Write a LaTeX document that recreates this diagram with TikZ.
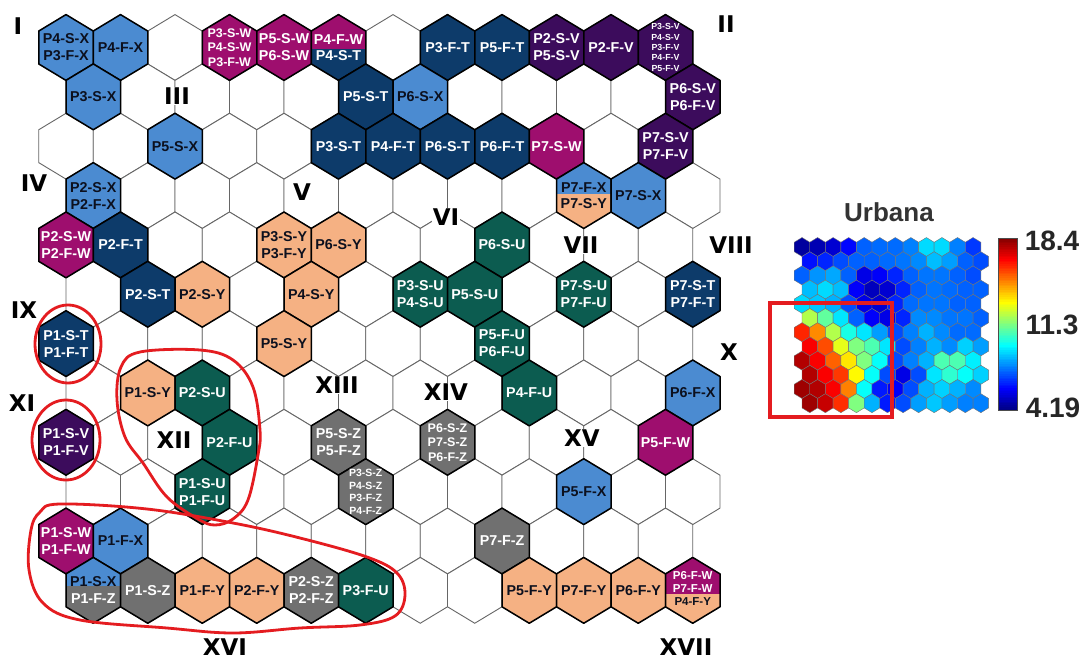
\documentclass[tikz,border=0pt]{standalone}
\usepackage{fontspec}
\setmainfont{Liberation Sans}
\newfontfamily\romfont{DejaVu Sans}
\usetikzlibrary{backgrounds}
\definecolor{hblue}{RGB}{75,139,209}
\definecolor{hnavy}{RGB}{13,59,106}
\definecolor{hmag}{RGB}{158,14,110}
\definecolor{hpurp}{RGB}{60,12,92}
\definecolor{hpeach}{RGB}{245,177,131}
\definecolor{hteal}{RGB}{12,92,80}
\definecolor{hgray}{RGB}{112,112,112}
\definecolor{hdark}{RGB}{12,16,30}
\definecolor{loopred}{RGB}{228,28,32}
\pgfdeclarelayer{fg}
\pgfsetlayers{main,fg}
\def\hw{27.25}
\def\hr{32.9}
\newcommand\setc[2]{\pgfmathsetmacro\hx{66+54.5*#2+27.25*mod(#1,2)}\pgfmathsetmacro\hy{47.5+49.35*#1}}
\newcommand\hexdo[1]{#1 (\hx,\hy) ++(0,-\hr) -- ++(\hw,0.5*\hr) -- ++(0,\hr) -- ++(-\hw,0.5*\hr) -- ++(-\hw,-0.5*\hr) -- ++(0,-\hr) -- cycle;}
\newcommand\chex[5]{%
  \setc{#1}{#2}%
  \hexdo{\draw[colhex,fill=#3]}%
  \begin{pgfonlayer}{fg}\node[#4] (n#1-#2) at (\hx,\hy) {#5};\end{pgfonlayer}%
}
\newcommand\shex[5]{%
  \setc{#1}{#2}%
  \pgfmathsetmacro\hs{\hy+(#5)}%
  \hexdo{\fill[#4]}%
  \begin{scope}\clip (\hx-30,\hy-40) rectangle (\hx+30,\hs);\hexdo{\fill[#3]}\end{scope}%
  \hexdo{\draw[colhex]}%
}
\newcommand\jetcolor[1]{%
 \pgfmathsetmacro\jr{max(0,min(1,min(4*(#1)-1.5,4.5-4*(#1))))}%
 \pgfmathsetmacro\jg{max(0,min(1,min(4*(#1)-0.5,3.5-4*(#1))))}%
 \pgfmathsetmacro\jb{max(0,min(1,min(4*(#1)+0.5,2.5-4*(#1))))}%
 \definecolor{jetc}{rgb}{\jr,\jg,\jb}}
\tikzset{
 gridhex/.style={draw=black!60, line width=0.9pt, fill=white},
 colhex/.style={draw=black, line width=1.5pt, line join=round},
 hlab/.style={font=\bfseries\fontsize{14.3}{17}\selectfont, align=center, inner sep=0pt},
 hlab3/.style={font=\bfseries\fontsize{12.5}{14.5}\selectfont, align=center, inner sep=0pt},
 hlab4/.style={font=\bfseries\fontsize{10.5}{12.5}\selectfont, align=center, inner sep=0pt},
 hlab5/.style={font=\bfseries\fontsize{8.8}{10.4}\selectfont, align=center, inner sep=0pt},
 tw/.style={hlab,text=white},
 tk/.style={hlab,text=hdark},
 roman/.style={font=\romfont\bfseries\fontsize{23}{23}\selectfont, inner sep=0.5pt, fill=white, text=black},
 redloop/.style={draw=loopred, line width=2.8pt},
 maphex/.style={draw=black!55, line width=0.4pt},
}
\begin{document}
\begin{tikzpicture}[x=1pt,y=-1pt]
\useasboundingbox (0,0) rectangle (1089,661);
\fill[white] (0,0) rectangle (1089,661);
% grid
\foreach \ii in {0,...,11}{\foreach \jj in {0,...,11}{\setc{\ii}{\jj}\hexdo{\draw[gridhex]}}}
% row 0
\chex{0}{0}{hblue}{tk}{P4-S-X\\P3-F-X}
\chex{0}{1}{hblue}{tk}{P4-F-X}
\chex{0}{3}{hmag}{hlab3,text=white}{P3-S-W\\P4-S-W\\P3-F-W}
\chex{0}{4}{hmag}{tw}{P5-S-W\\P6-S-W}
\shex{0}{5}{hmag}{hnavy}{1}
\begin{pgfonlayer}{fg}
\node[tw] (n0-5a) at (\hx,\hy-8) {P4-F-W};
\node[tw] (n0-5b) at (\hx,\hy+8.5) {P4-S-T};
\end{pgfonlayer}
\chex{0}{7}{hnavy}{tw}{P3-F-T}
\chex{0}{8}{hnavy}{tw}{P5-F-T}
\chex{0}{9}{hpurp}{tw}{P2-S-V\\P5-S-V}
\chex{0}{10}{hpurp}{tw}{P2-F-V}
\chex{0}{11}{hpurp}{hlab5,text=white}{P3-S-V\\P4-S-V\\P3-F-V\\P4-F-V\\P5-F-V}
% row 1
\chex{1}{0}{hblue}{tk}{P3-S-X}
\chex{1}{5}{hnavy}{tw}{P5-S-T}
\chex{1}{6}{hblue}{tk}{P6-S-X}
\chex{1}{11}{hpurp}{tw}{P6-S-V\\P6-F-V}
% row 2
\chex{2}{2}{hblue}{tk}{P5-S-X}
\chex{2}{5}{hnavy}{tw}{P3-S-T}
\chex{2}{6}{hnavy}{tw}{P4-F-T}
\chex{2}{7}{hnavy}{tw}{P6-S-T}
\chex{2}{8}{hnavy}{tw}{P6-F-T}
\chex{2}{9}{hmag}{tw}{P7-S-W}
\chex{2}{11}{hpurp}{tw}{P7-S-V\\P7-F-V}
% row 3
\chex{3}{0}{hblue}{tk}{P2-S-X\\P2-F-X}
\shex{3}{9}{hblue}{hpeach}{-2}
\begin{pgfonlayer}{fg}
\node[tk] (n3-9a) at (\hx,\hy-8) {P7-F-X};
\node[tk] (n3-9b) at (\hx,\hy+8.5) {P7-S-Y};
\end{pgfonlayer}
\chex{3}{10}{hblue}{tk}{P7-S-X}
% row 4
\chex{4}{0}{hmag}{tw}{P2-S-W\\P2-F-W}
\chex{4}{1}{hnavy}{tw}{P2-F-T}
\chex{4}{4}{hpeach}{tk}{P3-S-Y\\P3-F-Y}
\chex{4}{5}{hpeach}{tk}{P6-S-Y}
\chex{4}{8}{hteal}{tw}{P6-S-U}
% row 5
\chex{5}{1}{hnavy}{tw}{P2-S-T}
\chex{5}{2}{hpeach}{tk}{P2-S-Y}
\chex{5}{4}{hpeach}{tk}{P4-S-Y}
\chex{5}{6}{hteal}{tw}{P3-S-U\\P4-S-U}
\chex{5}{7}{hteal}{tw}{P5-S-U}
\chex{5}{9}{hteal}{tw}{P7-S-U\\P7-F-U}
\chex{5}{11}{hnavy}{tw}{P7-S-T\\P7-F-T}
% row 6
\chex{6}{0}{hnavy}{tw}{P1-S-T\\P1-F-T}
\chex{6}{4}{hpeach}{tk}{P5-S-Y}
\chex{6}{8}{hteal}{tw}{P5-F-U\\P6-F-U}
% row 7
\chex{7}{1}{hpeach}{tk}{P1-S-Y}
\chex{7}{2}{hteal}{tw}{P2-S-U}
\chex{7}{8}{hteal}{tw}{P4-F-U}
\chex{7}{11}{hblue}{tk}{P6-F-X}
% row 8
\chex{8}{0}{hpurp}{tw}{P1-S-V\\P1-F-V}
\chex{8}{3}{hteal}{tw}{P2-F-U}
\chex{8}{5}{hgray}{tw}{P5-S-Z\\P5-F-Z}
\chex{8}{7}{hgray}{hlab3,text=white}{P6-S-Z\\P7-S-Z\\P6-F-Z}
\chex{8}{11}{hmag}{tw}{P5-F-W}
% row 9
\chex{9}{2}{hteal}{tw}{P1-S-U\\P1-F-U}
\chex{9}{5}{hgray}{hlab4,text=white}{P3-S-Z\\P4-S-Z\\P3-F-Z\\P4-F-Z}
\chex{9}{9}{hblue}{tk}{P5-F-X}
% row 10
\chex{10}{0}{hmag}{tw}{P1-S-W\\P1-F-W}
\chex{10}{1}{hblue}{tk}{P1-F-X}
\chex{10}{8}{hgray}{tw}{P7-F-Z}
% row 11
\shex{11}{0}{hblue}{hgray}{-5}
\begin{pgfonlayer}{fg}
\node[tk] (n11-0a) at (\hx,\hy-9) {P1-S-X};
\node[tw] (n11-0b) at (\hx,\hy+8) {P1-F-Z};
\end{pgfonlayer}
\chex{11}{1}{hgray}{tw}{P1-S-Z}
\chex{11}{2}{hpeach}{tk}{P1-F-Y}
\chex{11}{3}{hpeach}{tk}{P2-F-Y}
\chex{11}{4}{hgray}{tw}{P2-S-Z\\P2-F-Z}
\chex{11}{5}{hteal}{tw}{P3-F-U}
\chex{11}{8}{hpeach}{tk}{P5-F-Y}
\chex{11}{9}{hpeach}{tk}{P7-F-Y}
\chex{11}{10}{hpeach}{tk}{P6-F-Y}
\shex{11}{11}{hmag}{hpeach}{3}
\begin{pgfonlayer}{fg}
\node[hlab,font=\bfseries\fontsize{11.5}{13}\selectfont,text=white] (n11-11a) at (\hx,\hy-15) {P6-F-W};
\node[hlab,font=\bfseries\fontsize{11.5}{13}\selectfont,text=white] (n11-11b) at (\hx,\hy-1.5) {P7-F-W};
\node[hlab,font=\bfseries\fontsize{11.5}{13}\selectfont,text=hdark] (n11-11c) at (\hx,\hy+11) {P4-F-Y};
\end{pgfonlayer}
% roman labels
\begin{pgfonlayer}{fg}
\node[roman] (rI) at (18,26) {I};
\node[roman] (rII) at (726,24) {II};
\node[roman] (rIII) at (177,96) {III};
\node[roman] (rIV) at (34,183) {IV};
\node[roman] (rV) at (302,192) {V};
\node[roman] (rVI) at (446,217) {VI};
\node[roman] (rVII) at (581,245) {VII};
\node[roman] (rVIII) at (731,245) {VIII};
\node[roman] (rIX) at (24,310) {IX};
\node[roman] (rX) at (729,352) {X};
\node[roman] (rXI) at (22,403) {XI};
\node[roman] (rXII) at (174,440) {XII};
\node[roman] (rXIII) at (337,385) {XIII};
\node[roman] (rXIV) at (446,392) {XIV};
\node[roman] (rXV) at (582,438) {XV};
\node[roman, fill=none] (rXVI) at (225,647) {XVI};
\node[roman, fill=none] (rXVII) at (686,647) {XVII};
% red loops
\draw[redloop] (68,344) ellipse [x radius=33pt, y radius=39pt];
\draw[redloop] (66,440) ellipse [x radius=34pt, y radius=40pt];
\draw[redloop] plot[smooth cycle, tension=0.6] coordinates {(117,400) (121,367) (140,352) (200,350) (233,360) (253,387) (260,430) (258,455) (248,500) (233,519) (215,525) (198,519) (167,497) (143,463) (125,437)};
\draw[redloop] plot[smooth cycle, tension=0.6] coordinates {(40,512) (60,504) (147,509) (233,523) (300,538) (367,557) (397,573) (405,595) (395,616) (360,625) (300,628) (233,633) (167,628) (80,620) (43,603) (29,570) (31,530)};
\end{pgfonlayer}
% Urbana map
\node[font=\bfseries\fontsize{26}{26}\selectfont, text=black!80, inner sep=0pt] (title) at (889,212) {Urbana};
\foreach \vals [count=\ri from 0] in {
 {0.03,0.05,0.08,0.13,0.22,0.23,0.23,0.25,0.34,0.34,0.25,0.18},
 {0.14,0.16,0.2,0.22,0.22,0.23,0.24,0.26,0.31,0.28,0.22,0.2},
 {0.22,0.27,0.29,0.22,0.1,0.12,0.16,0.22,0.24,0.24,0.22,0.2},
 {0.31,0.34,0.31,0.12,0.06,0.08,0.16,0.22,0.24,0.23,0.22,0.22},
 {0.34,0.32,0.3,0.2,0.1,0.08,0.16,0.23,0.24,0.24,0.22,0.22},
 {0.55,0.47,0.35,0.22,0.12,0.1,0.16,0.26,0.26,0.24,0.24,0.22},
 {0.84,0.74,0.55,0.4,0.35,0.28,0.2,0.25,0.3,0.26,0.23,0.23},
 {0.88,0.8,0.6,0.5,0.45,0.35,0.2,0.25,0.3,0.26,0.33,0.28},
 {0.95,0.88,0.78,0.65,0.5,0.38,0.2,0.25,0.3,0.45,0.45,0.36},
 {0.95,0.88,0.82,0.63,0.38,0.2,0.1,0.2,0.35,0.42,0.38,0.33},
 {0.97,0.95,0.88,0.75,0.38,0.15,0.12,0.2,0.3,0.33,0.3,0.26},
 {0.97,0.93,0.83,0.5,0.3,0.15,0.2,0.28,0.32,0.28,0.25,0.25}}{
  \foreach \v [count=\ci from 0] in \vals {
    \jetcolor{\v}
    \pgfmathsetmacro\mx{802+15.55*\ci+7.78*mod(\ri,2)}
    \pgfmathsetmacro\my{247+14.2*\ri}
    \draw[maphex,fill=jetc] (\mx,\my) ++(0,-9.47) -- ++(7.78,4.735) -- ++(0,9.47) -- ++(-7.78,4.735) -- ++(-7.78,-4.735) -- ++(0,-9.47) -- cycle;
  }
}
\draw[draw=loopred, line width=4pt] (770,303) rectangle (892,417);
% colorbar
\foreach \kk in {0,...,99}{\jetcolor{(\kk+0.5)/100}\fill[jetc] (998,{410-1.72*\kk+0.3}) rectangle (1017,{410-1.72*(\kk+1)});}
\draw[black!70, line width=0.6pt] (998,238) rectangle (1017,410);
\node[font=\bfseries\fontsize{28}{28}\selectfont, text=black!85, inner sep=0pt] (v1) at (1052,241) {18.4};
\node[font=\bfseries\fontsize{28}{28}\selectfont, text=black!85, inner sep=0pt] (v2) at (1052,325) {11.3};
\node[font=\bfseries\fontsize{28}{28}\selectfont, text=black!85, inner sep=0pt] (v3) at (1053,408) {4.19};
\end{tikzpicture}
\end{document}
